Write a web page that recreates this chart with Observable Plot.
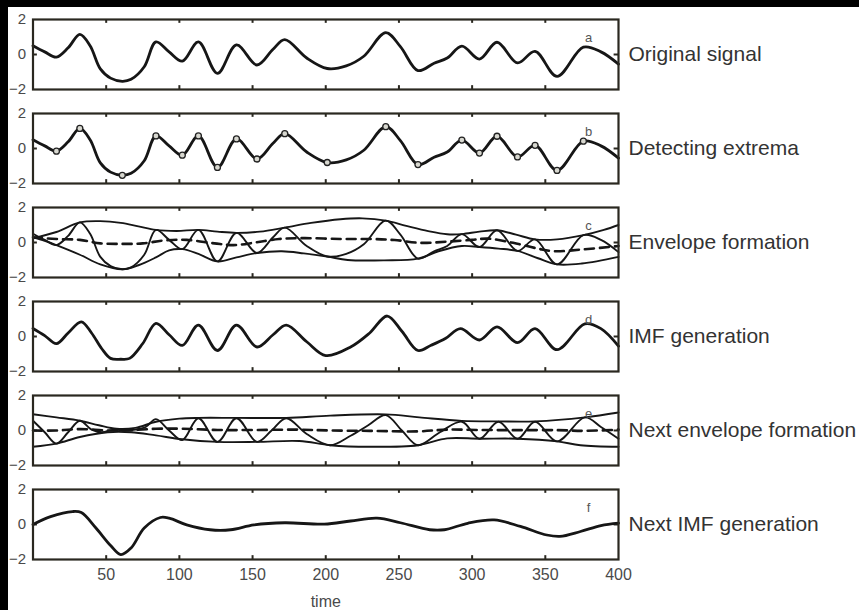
<!DOCTYPE html>
<html><head><meta charset="utf-8">
<script src="https://cdn.jsdelivr.net/npm/d3@7"></script>
<script src="https://cdn.jsdelivr.net/npm/@observablehq/plot@0.6"></script>
<style>
html,body{margin:0;padding:0;background:#000;}
#wrap{position:relative;width:859px;height:610px;background:#000;overflow:hidden;}
#paper{position:absolute;left:8px;top:7px;right:0;bottom:0;background:#fff;}
#chart{position:absolute;left:0;top:0;}
</style></head><body>
<div id="wrap"><div id="paper"></div><div id="chart"></div></div>
<script>
// ---- panels & labels ----
const panels = ["a", "b", "c", "d", "e", "f"];
const panelTitles = ["Original signal", "Detecting extrema", "Envelope formation", "IMF generation", "Next envelope formation", "Next IMF generation"];
const xTicks = [50, 100, 150, 200, 250, 300, 350, 400];
const yTicks = [-2, 0, 2];

// ---- original signal (panels a, b, c) ----
const tOrig = [0, 8, 16, 24, 32, 39, 46, 53, 61, 67, 76, 84, 93, 102, 113, 126, 139, 153, 164, 172, 187, 201, 214, 226, 241, 251, 263, 274, 283, 293, 305, 317, 331, 343, 358, 376, 388, 400];
const vOrig = [0.5, 0.15, -0.15, 0.38, 1.15, 0.5, -0.82, -1.35, -1.53, -1.42, -0.7, 0.72, 0.15, -0.38, 0.72, -1.08, 0.55, -0.6, 0.3, 0.85, -0.2, -0.8, -0.65, -0.1, 1.25, 0.45, -0.92, -0.5, -0.2, 0.48, -0.26, 0.7, -0.48, 0.18, -1.25, 0.42, 0.15, -0.55];

// ---- detected extrema (panel b) ----
const tExt = [16, 32, 61, 84, 102, 113, 126, 139, 153, 172, 201, 241, 263, 293, 305, 317, 331, 343, 358, 376];
const vExt = [-0.15, 1.15, -1.53, 0.72, -0.38, 0.72, -1.08, 0.55, -0.6, 0.85, -0.8, 1.25, -0.92, 0.48, -0.26, 0.7, -0.48, 0.18, -1.25, 0.42];

// ---- envelopes & mean (panel c) ----
const tUpC = [0, 16, 32, 46, 60, 72, 84, 98, 113, 126, 139, 155, 172, 190, 210, 225, 241, 255, 270, 283, 293, 305, 317, 330, 343, 358, 376, 390, 400];
const vUpC = [0.25, 0.6, 1.15, 1.22, 1.12, 0.92, 0.72, 0.66, 0.72, 0.62, 0.55, 0.62, 0.85, 1.12, 1.33, 1.38, 1.25, 0.95, 0.65, 0.47, 0.48, 0.62, 0.7, 0.45, 0.18, 0.18, 0.42, 0.72, 1.0];
const tLoC = [0, 8, 16, 32, 46, 61, 72, 84, 93, 102, 113, 126, 139, 153, 170, 185, 201, 215, 240, 263, 277, 293, 305, 318, 331, 345, 358, 375, 400];
const vLoC = [0.3, 0.1, -0.15, -0.7, -1.25, -1.53, -1.3, -0.85, -0.45, -0.38, -0.65, -1.08, -0.85, -0.6, -0.5, -0.62, -0.8, -1.0, -1.02, -0.92, -0.5, -0.2, -0.26, -0.35, -0.48, -0.9, -1.25, -1.2, -0.82];
const tMeanC = [0, 16, 32, 46, 61, 75, 90, 105, 124, 137, 152, 168, 185, 210, 230, 247, 265, 283, 300, 311, 328, 345, 356, 375, 400];
const vMeanC = [0.3, 0.2, 0.15, -0.05, -0.08, -0.05, 0.12, 0.15, -0.05, -0.15, 0.0, 0.2, 0.25, 0.2, 0.2, 0.14, -0.02, 0.05, 0.15, 0.22, -0.02, -0.35, -0.5, -0.4, -0.2];

// ---- IMF (panel d) ----
const tImf = [0, 8, 16, 24, 33, 40, 47, 53, 60, 66, 75, 84, 93, 102, 113, 126, 139, 153, 164, 173, 187, 200, 217, 230, 242, 252, 263, 272, 282, 292, 305, 317, 331, 343, 358, 377, 388, 400];
const vImf = [0.46, 0.05, -0.41, 0.2, 0.84, 0.2, -0.7, -1.25, -1.3, -1.25, -0.4, 0.75, 0.1, -0.51, 0.65, -0.8, 0.65, -0.6, 0.1, 0.65, -0.3, -1.09, -0.6, 0.2, 1.17, 0.3, -0.8, -0.5, -0.1, 0.45, -0.2, 0.55, -0.35, 0.45, -0.75, 0.72, 0.45, -0.55];

// ---- next sifting (panel e) ----
const tSig2 = [0, 8, 16, 24, 32, 40, 47, 55, 62, 70, 77, 84, 93, 102, 113, 126, 139, 153, 163, 173, 187, 203, 217, 229, 241, 252, 263, 278, 293, 305, 318, 331, 343, 358, 377, 388, 400];
const vSig2 = [0.56, -0.1, -0.75, -0.1, 0.56, 0.05, -0.1, 0.05, 0.0, 0.05, 0.2, 0.65, 0.0, -0.55, 0.7, -0.65, 0.7, -0.65, 0.0, 0.7, -0.2, -0.84, -0.3, 0.3, 0.88, 0.0, -0.84, -0.1, 0.5, -0.47, 0.5, -0.47, 0.5, -0.62, 0.75, 0.2, -0.47];
const tUpE = [0, 16, 32, 45, 57, 70, 84, 100, 113, 139, 173, 203, 241, 264, 293, 318, 343, 377, 400];
const vUpE = [0.93, 0.75, 0.56, 0.3, 0.1, 0.15, 0.5, 0.68, 0.72, 0.72, 0.72, 0.85, 0.92, 0.75, 0.55, 0.52, 0.52, 0.75, 1.03];
const tLoE = [0, 16, 32, 51, 67, 84, 102, 126, 153, 182, 203, 230, 263, 283, 305, 331, 358, 374, 400];
const vLoE = [-0.93, -0.75, -0.37, -0.1, -0.1, -0.28, -0.5, -0.65, -0.65, -0.6, -0.84, -0.93, -0.84, -0.45, -0.47, -0.47, -0.62, -0.84, -0.93];
const tMeanE = [0, 16, 32, 51, 67, 84, 102, 126, 153, 182, 203, 230, 263, 283, 305, 331, 358, 377, 400];
const vMeanE = [0.0, 0.0, 0.08, 0.0, 0.02, 0.1, 0.1, 0.03, 0.03, 0.05, 0.0, -0.02, -0.05, 0.05, 0.03, 0.02, 0.02, -0.02, 0.05];

// ---- next IMF (panel f) ----
const tNext = [0, 12, 27, 33, 43, 53, 60, 67, 76, 87, 93, 105, 121, 135, 151, 172, 199, 217, 235, 251, 271, 281, 297, 315, 333, 351, 360, 374, 388, 400];
const vNext = [0.0, 0.45, 0.74, 0.68, -0.2, -1.2, -1.72, -1.34, -0.2, 0.4, 0.36, -0.02, -0.3, -0.3, -0.02, 0.1, 0.02, 0.2, 0.36, 0.1, -0.3, -0.3, 0.07, 0.26, -0.11, -0.6, -0.68, -0.4, -0.06, 0.08];

// ---- build tables ----
const rows = (panel, key, ts, vs) => ts.map((t, i) => ({panel, key: panel + key, t, v: vs[i]}));
const mainLines = [
  ...rows("a", "s", tOrig, vOrig),
  ...rows("b", "s", tOrig, vOrig),
  ...rows("d", "s", tImf, vImf),
  ...rows("f", "s", tNext, vNext)
];
const thinLines = [
  ...rows("c", "s", tOrig, vOrig),
  ...rows("c", "u", tUpC, vUpC),
  ...rows("c", "l", tLoC, vLoC),
  ...rows("e", "s", tSig2, vSig2),
  ...rows("e", "u", tUpE, vUpE),
  ...rows("e", "l", tLoE, vLoE)
];
const meanLines = [
  ...rows("c", "m", tMeanC, vMeanC),
  ...rows("e", "m", tMeanE, vMeanE)
];
const extrema = rows("b", "x", tExt, vExt);
const panelInfo = panels.map((p, i) => ({panel: p, title: panelTitles[i]}));

const ink = "#161616";
const chart = Plot.plot({
  width: 859,
  height: 610,
  marginTop: 16,
  marginBottom: 48,
  marginLeft: 32.5,
  marginRight: 241,
  style: {background: "transparent", fontFamily: "'Liberation Sans', Arial, sans-serif", overflow: "visible"},
  x: {domain: [0, 400]},
  y: {domain: [-2, 2]},
  fy: {domain: panels, paddingInner: 0.2526, paddingOuter: 0, axis: null},
  marks: [
    Plot.axisY(yTicks, {tickSize: 0, tickPadding: 7, fontSize: 15, fill: "#4a4a4a", label: null}),
    Plot.axisX(xTicks, {anchor: "bottom", tickSize: 0, tickPadding: 9, fontSize: 16, fill: "#4a4a4a", label: "time", labelAnchor: "center", labelOffset: 47, labelArrow: "none"}),
    Plot.ruleX(xTicks.slice(0, -1), {y1: 2, y2: 1.78, stroke: "#2a2820", strokeWidth: 2}),
    Plot.ruleX(xTicks.slice(0, -1), {y1: -2, y2: -1.78, stroke: "#2a2820", strokeWidth: 2}),
    Plot.ruleY([0], {x1: 0, x2: 3, stroke: "#2a2820", strokeWidth: 2}),
    Plot.ruleY([0], {x1: 397, x2: 400, stroke: "#2a2820", strokeWidth: 2}),
    Plot.line(thinLines, {x: "t", y: "v", z: "key", fy: "panel", curve: "catmull-rom", stroke: ink, strokeWidth: 1.9}),
    Plot.line(meanLines, {x: "t", y: "v", z: "key", fy: "panel", curve: "catmull-rom", stroke: ink, strokeWidth: 2.6, strokeDasharray: "9,6"}),
    Plot.line(mainLines, {x: "t", y: "v", z: "key", fy: "panel", curve: "catmull-rom", stroke: ink, strokeWidth: 2.8}),
    Plot.dot(extrema, {x: "t", y: "v", fy: "panel", r: 3, stroke: "#222", strokeWidth: 1.3, fill: "#d8d8d0"}),
    Plot.frame({stroke: "#2a2820", strokeWidth: 2.2}),
    Plot.text(panelInfo, {fy: "panel", text: "panel", frameAnchor: "top-right", dx: -30, dy: 13, fontSize: 13, fill: "#555", textAnchor: "middle"}),
    Plot.text(panelInfo, {fy: "panel", text: "title", frameAnchor: "right", dx: 10, textAnchor: "start", fontSize: 21, fill: "#333"})
  ]
});
document.getElementById("chart").appendChild(chart);
</script>
</body></html>
